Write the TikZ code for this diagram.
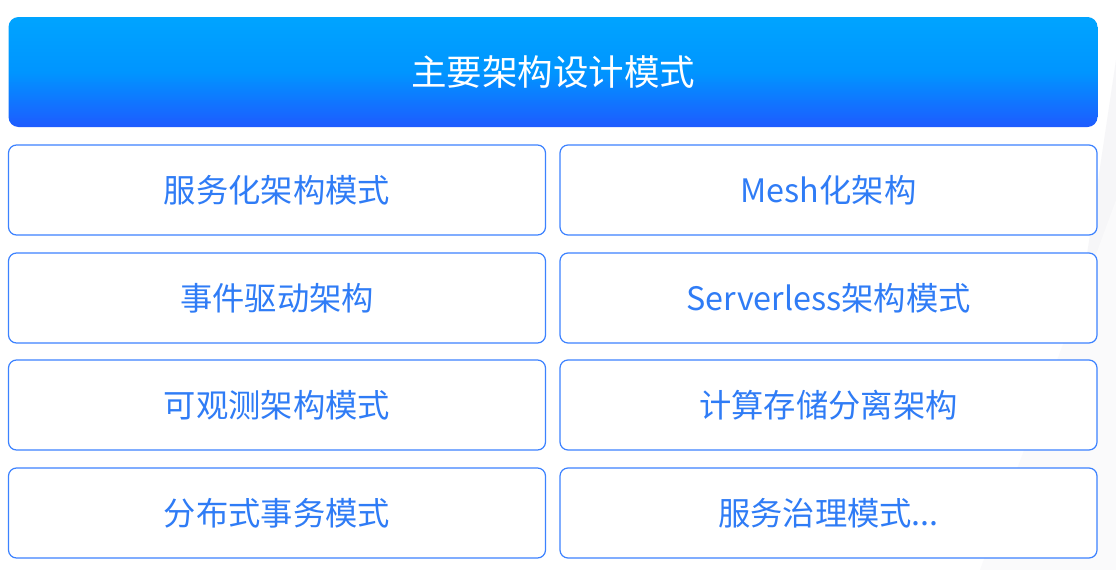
\documentclass[tikz,border=0pt]{standalone}
\usepackage{fontspec}
\setmainfont{Noto Sans CJK SC}
\begin{document}
\definecolor{txtblue}{HTML}{2F7CF6}
\definecolor{edgeblue}{HTML}{3C82FF}
\definecolor{hdtop}{HTML}{00A4FF}
\definecolor{hdmid}{HTML}{0095FF}
\definecolor{hdbot}{HTML}{1E5BFF}
\definecolor{bgfaint}{HTML}{F6F6F8}
\begin{tikzpicture}[x=1pt,y=-1pt,
  itembox/.style={draw=edgeblue,line width=1.2pt,rounded corners=8pt,fill=white,
    minimum width=537pt,minimum height=90pt,inner sep=0pt,
    text=txtblue,font=\fontsize{32.3}{38}\selectfont},
  headbox/.style={rounded corners=10pt,top color=hdtop,bottom color=hdbot,middle color=hdmid,
    minimum width=1089pt,minimum height=110pt,inner sep=0pt,
    text=white,font=\fontsize{35.5}{42}\selectfont}]
\useasboundingbox (0,0) rectangle (1116,570);
\fill[white] (0,0) rectangle (1116,570);
\fill[bgfaint] (1116,60) -- (1116,570) -- (1040,570) -- cycle;
\fill[bgfaint!60] (980,570) -- (1116,200) -- (1116,570) -- cycle;
\node[headbox] (head) at (553,72) {主要架构设计模式};
\node[itembox] (l1) at (277,190) {服务化架构模式};
\node[itembox] (r1) at (828.5,190) {Mesh化架构};
\node[itembox] (l2) at (277,298) {事件驱动架构};
\node[itembox] (r2) at (828.5,298) {Serverless架构模式};
\node[itembox] (l3) at (277,405) {可观测架构模式};
\node[itembox] (r3) at (828.5,405) {计算存储分离架构};
\node[itembox] (l4) at (277,513) {分布式事务模式};
\node[itembox] (r4) at (828.5,513) {服务治理模式...};
\end{tikzpicture}
\end{document}
